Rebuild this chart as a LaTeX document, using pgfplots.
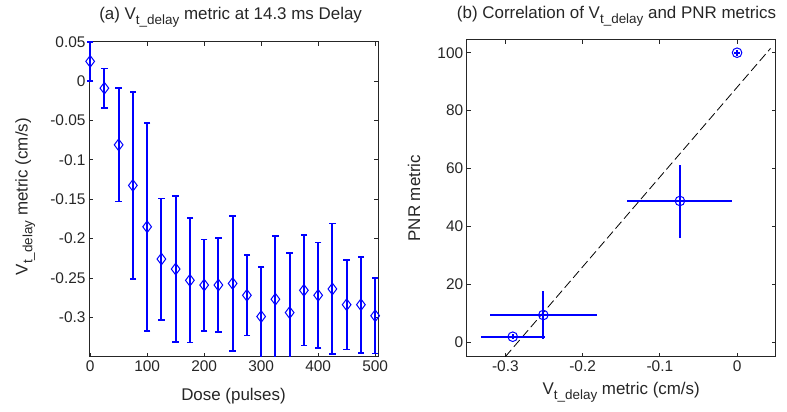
\documentclass[border=0pt]{standalone}
\usepackage{pgfplots}
\pgfplotsset{compat=1.18}
\usepackage{pgfplotstable}
\usepackage{fontspec}
\setmainfont{Liberation Sans}
\definecolor{mblue}{RGB}{0,0,255}
\definecolor{txt}{RGB}{38,38,38}
\newcommand{\Vt}{V\raisebox{-0.55ex}{\fontsize{13.5}{15}\selectfont t\_delay}}

% x, mean, lower end of bar, upper end of bar
\pgfplotstableread{
x y lo hi
0 0.025 0.000 0.050
25 -0.009 -0.034 0.016
50 -0.081 -0.153 -0.009
75 -0.1325 -0.2515 -0.0135
100 -0.185 -0.317 -0.053
125 -0.226 -0.303 -0.149
150 -0.2387 -0.3317 -0.1457
175 -0.253 -0.332 -0.174
200 -0.259 -0.317 -0.201
225 -0.259 -0.319 -0.199
250 -0.257 -0.343 -0.171
275 -0.272 -0.323 -0.221
300 -0.299 -0.362 -0.236
325 -0.277 -0.357 -0.197
350 -0.294 -0.370 -0.218
375 -0.2657 -0.3357 -0.1957
400 -0.272 -0.339 -0.205
425 -0.264 -0.347 -0.181
450 -0.284 -0.341 -0.227
475 -0.284 -0.345 -0.223
500 -0.298 -0.346 -0.250
}\dataA

\pgfplotstableread{
x y
-0.2904 1.9
-0.2508 9.4
-0.074 48.8
0.0 100
}\dataB

\pgfplotsset{
  mstyle/.style={
    scale only axis,
    tick align=inside,
    major tick length=4bp,
    axis line style={line width=0.8bp, txt},
    every tick/.style={line width=0.7bp, txt},
    ticklabel style={font=\fontsize{15.5}{18}\selectfont, text=txt},
    /pgf/number format/assume math mode=true,
    label style={font=\fontsize{17}{20}\selectfont, text=txt, inner sep=0pt},
    title style={font=\fontsize{17}{20}\selectfont, text=txt, inner sep=0pt, anchor=base},
    scaled ticks=false,
    unbounded coords=jump,
    /pgf/number format/.cd, fixed, precision=2,
  }
}

\begin{document}
\begin{tikzpicture}
\useasboundingbox (0bp,0bp) rectangle (787bp,412bp);
\begin{axis}[mstyle,
  at={(89bp,55.3bp)}, anchor=south west,
  width=289bp, height=315bp,
  xmin=-2, xmax=505, ymin=-0.35, ymax=0.05,
  xtick={0,100,200,300,400,500},
  ytick={-0.3,-0.25,-0.2,-0.15,-0.1,-0.05,0,0.05},
  yticklabels={-0.3,-0.25,-0.2,-0.15,-0.1,-0.05,0,0.05},
  title={(a) \Vt{} metric at 14.3 ms Delay},
  title style={at={(axis description cs:0.49,1.05)}},
  xlabel={Dose (pulses)},
  xlabel style={at={(axis description cs:0.5,-0.1375)}, anchor=base},
  ylabel={\Vt{} metric (cm/s)},
  ylabel style={at={(axis description cs:-0.2128,0.508)}, anchor=base},
]
% error bars (vertical segments, lower to upper)
\addplot[mblue, line width=1.9bp] coordinates {
(0,0.000) (0,0.050) (0,nan)
(25,-0.034) (25,0.016) (25,nan)
(50,-0.153) (50,-0.009) (50,nan)
(75,-0.2515) (75,-0.0135) (75,nan)
(100,-0.317) (100,-0.053) (100,nan)
(125,-0.303) (125,-0.149) (125,nan)
(150,-0.3317) (150,-0.1457) (150,nan)
(175,-0.332) (175,-0.174) (175,nan)
(200,-0.317) (200,-0.201) (200,nan)
(225,-0.319) (225,-0.199) (225,nan)
(250,-0.343) (250,-0.171) (250,nan)
(275,-0.323) (275,-0.221) (275,nan)
(300,-0.362) (300,-0.236) (300,nan)
(325,-0.357) (325,-0.197) (325,nan)
(350,-0.370) (350,-0.218) (350,nan)
(375,-0.3357) (375,-0.1957) (375,nan)
(400,-0.339) (400,-0.205) (400,nan)
(425,-0.347) (425,-0.181) (425,nan)
(450,-0.341) (450,-0.227) (450,nan)
(475,-0.345) (475,-0.223) (475,nan)
(500,-0.346) (500,-0.250)
};
% caps
\addplot[mblue, only marks, mark=-, mark size=3.3bp, mark options={line width=1.7bp},
  restrict y to domain=-0.351:0.06] table[x=x, y=lo]{\dataA};
\addplot[mblue, only marks, mark=-, mark size=3.3bp, mark options={line width=1.7bp},
  restrict y to domain=-0.351:0.06] table[x=x, y=hi]{\dataA};
% means
\addplot[mblue, only marks, mark=diamond, mark size=5.8bp,
  mark options={line width=1bp, fill=none, solid}]
  table[x=x, y=y]{\dataA};
\end{axis}

\begin{axis}[mstyle,
  at={(466.7bp,55.3bp)}, anchor=south west,
  width=309bp, height=317bp,
  xmin=-0.35, xmax=0.05, ymin=-5, ymax=104.5,
  xtick={-0.3,-0.2,-0.1,0},
  xticklabels={-0.3,-0.2,-0.1,0},
  ytick={0,20,40,60,80,100},
  title={(b) Correlation of \Vt{} and PNR metrics},
  title style={at={(axis description cs:0.485,1.047)}},
  xlabel={\Vt{} metric (cm/s)},
  xlabel style={at={(axis description cs:0.5,-0.1208)}, anchor=base},
  ylabel={PNR metric},
  ylabel style={at={(axis description cs:-0.151,0.5)}, anchor=base},
]
\addplot[black, line width=0.8bp, dash pattern=on 9bp off 4bp] coordinates {(-0.3,-5) (0.0433,101.5)};
% horizontal error bars
\addplot[mblue, line width=2bp] coordinates {
(-0.3317,1.9) (-0.2491,1.9) (0,nan)
(-0.3198,9.4) (-0.1818,9.4) (0,nan)
(-0.142,48.8) (-0.006,48.8) (0,nan)
(-0.004,100) (0.004,100)
};
% vertical error bars
\addplot[mblue, line width=1.9bp] coordinates {
(-0.2904,1.1) (-0.2904,2.7) (0,nan)
(-0.2508,1.2) (-0.2508,17.6) (0,nan)
(-0.074,36.1) (-0.074,61.1) (0,nan)
(0.0,99) (0.0,101)
};
\addplot[mblue, only marks, mark=o, mark size=4.8bp,
  mark options={line width=1bp, solid}]
  table[x=x, y=y]{\dataB};
\end{axis}
\end{tikzpicture}
\end{document}
